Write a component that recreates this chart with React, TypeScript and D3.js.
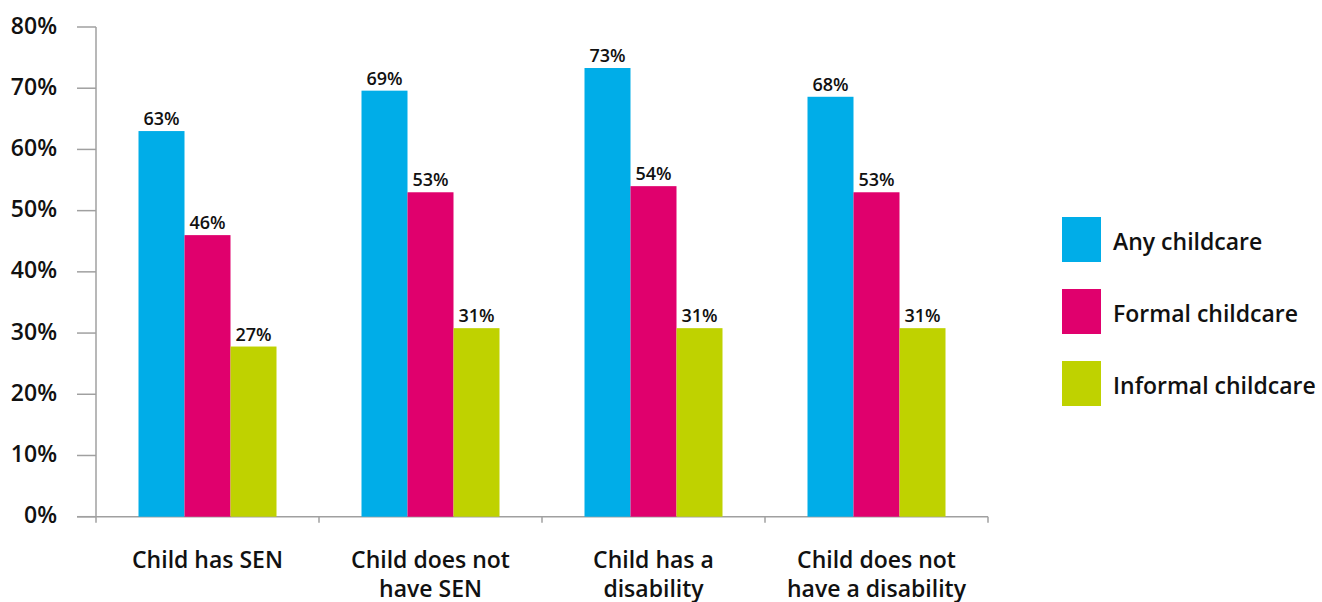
import React from "react";
import * as d3 from "d3";

const categories = [
  ["Child has SEN"],
  ["Child does not", "have SEN"],
  ["Child has a", "disability"],
  ["Child does not", "have a disability"],
];
const seriesNames = ["Any childcare", "Formal childcare", "Informal childcare"];
const anyChildcare = [63, 69.6, 73.3, 68.6];
const formalChildcare = [46, 53, 54, 53];
const informalChildcare = [27.8, 30.8, 30.8, 30.8];
const anyLabels = ["63%", "69%", "73%", "68%"];
const formalLabels = ["46%", "53%", "54%", "53%"];
const informalLabels = ["27%", "31%", "31%", "31%"];
const yTicks = [0, 10, 20, 30, 40, 50, 60, 70, 80];

const colors = ["#00ADE8", "#E0006D", "#BFD200"];
const FONT = "'Open Sans', sans-serif";

export default function App() {
  const W = 1322, H = 602;
  const left = 96, right = 988, top = 27, bottom = 516.7;
  const series = [anyChildcare, formalChildcare, informalChildcare];
  const labels = [anyLabels, formalLabels, informalLabels];
  const x0 = d3.scaleBand<number>().domain(d3.range(categories.length)).range([left, right]).padding(0);
  const bw = x0.bandwidth();
  const x1 = d3.scaleBand<number>().domain([0, 1, 2]).range([42.5, bw - 42.5]).padding(0);
  const y = d3.scaleLinear().domain([0, 80]).range([bottom, top]);
  const axisColor = "#A0A0A0";

  return (
    <svg width={W} height={H} style={{ position: "absolute", left: 0, top: 0, background: "#fff" }} fontFamily={FONT}>
      {/* y axis */}
      <line x1={left} x2={left} y1={top} y2={bottom} stroke={axisColor} strokeWidth={1.5} />
      {yTicks.map((t) => (
        <g key={t}>
          <line x1={77} x2={left} y1={y(t)} y2={y(t)} stroke={axisColor} strokeWidth={1.5} />
          <text x={57} y={y(t) + 6.5} textAnchor="end" fontSize={23} fontWeight={600} fill="#111">
            {t}%
          </text>
        </g>
      ))}
      {/* x axis */}
      <line x1={77} x2={right} y1={bottom} y2={bottom} stroke={axisColor} strokeWidth={1.5} />
      {d3.range(categories.length + 1).map((i) => {
        const xx = left + i * bw;
        return <line key={i} x1={xx} x2={xx} y1={bottom} y2={bottom + 6} stroke={axisColor} strokeWidth={1.5} />;
      })}
      {/* bars */}
      {categories.map((c, ci) => (
        <g key={ci}>
          {series.map((s, si) => {
            const bx = (x0(ci) as number) + (x1(si) as number);
            const v = s[ci];
            return (
              <g key={si}>
                <rect x={bx} y={y(v)} width={x1.bandwidth()} height={bottom - y(v)} fill={colors[si]} />
                <text x={bx + x1.bandwidth() / 2} y={y(v) - 6} textAnchor="middle" fontSize={18} fontWeight={600} fill="#111">
                  {labels[si][ci]}
                </text>
              </g>
            );
          })}
          {c.map((line, li) => (
            <text key={li} x={(x0(ci) as number) + bw / 2} y={568 + li * 29} textAnchor="middle" fontSize={23} fontWeight={600} fill="#111">
              {line}
            </text>
          ))}
        </g>
      ))}
      {/* legend */}
      {seriesNames.map((n, i) => (
        <g key={n}>
          <rect x={1062} y={217 + i * 72} width={39} height={45} fill={colors[i]} />
          <text x={1113} y={250 + i * 72} fontSize={23} fontWeight={600} fill="#111">
            {n}
          </text>
        </g>
      ))}
    </svg>
  );
}
